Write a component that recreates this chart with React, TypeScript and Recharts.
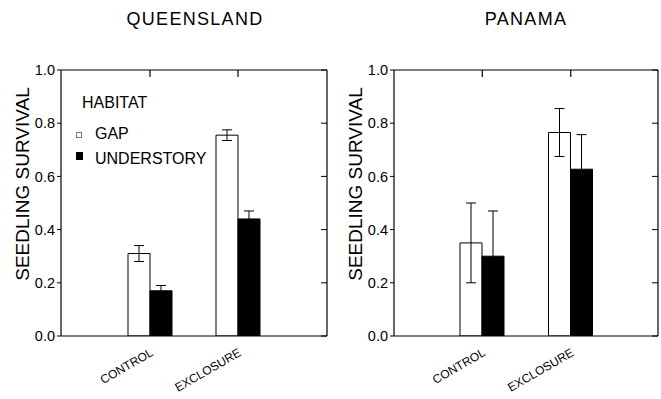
import React from 'react';
import { BarChart, Bar, XAxis, YAxis, ErrorBar } from 'recharts';

const categories = ['CONTROL', 'EXCLOSURE'];
const seriesNames = ['GAP', 'UNDERSTORY'];
const panelTitles = ['QUEENSLAND', 'PANAMA'];
const yLabel = 'SEEDLING SURVIVAL';
const legendTitle = 'HABITAT';
const yTicks = [0, 0.2, 0.4, 0.6, 0.8, 1.0];

const qGap = [0.31, 0.755];
const qGapErr = [0.03, 0.02];
const qUnder = [0.17, 0.44];
const qUnderErr = [0.02, 0.03];

const pGap = [0.35, 0.765];
const pGapErr = [0.15, 0.09];
const pUnder = [0.3, 0.627];
const pUnderErr = [0.17, 0.13];

const FONT = '"Liberation Sans", Arial, Helvetica, sans-serif';

const build = (gap: number[], gapErr: number[], under: number[], underErr: number[]) =>
  categories.map((c, i) => ({
    cat: c,
    gap: gap[i],
    gapErr: gapErr[i],
    under: under[i],
    underErr: underErr[i],
  }));

const qData = build(qGap, qGapErr, qUnder, qUnderErr);
const pData = build(pGap, pGapErr, pUnder, pUnderErr);

const XTick = (props: any) => {
  const { x, payload } = props;
  return (
    <g transform={`translate(${x + 4},${355}) rotate(-30)`}>
      <text x={0} y={0} textAnchor="end" fontSize={12} fontFamily={FONT} fill="#000">
        {payload.value}
      </text>
    </g>
  );
};

const NoTick = () => <g />;

const Panel = ({ data, width, pad }: { data: any[]; width: number; pad: [number, number] }) => (
  <BarChart
    width={width}
    height={399}
    data={data}
    barGap={0}
    margin={{ top: 70, right: 3, bottom: 13, left: 0 }}
  >
    <XAxis
      dataKey="cat"
      type="category"
      height={50}
      padding={{ left: pad[0], right: pad[1] }}
      tickLine={false}
      axisLine={{ stroke: '#000', strokeWidth: 1.2 }}
      tick={<XTick />}
      interval={0}
    />
    <XAxis
      xAxisId="t"
      dataKey="cat"
      type="category"
      orientation="top"
      mirror
      height={30}
      padding={{ left: pad[0], right: pad[1] }}
      tick={<NoTick />}
      tickSize={7}
      tickLine={{ stroke: '#000', strokeWidth: 1.2 }}
      axisLine={{ stroke: '#000', strokeWidth: 1.2 }}
      interval={0}
    />
    <YAxis
      type="number"
      domain={[0, 1]}
      ticks={yTicks}
      allowDataOverflow
      interval={0}
      width={61}
      tickSize={4}
      tickMargin={2}
      tickFormatter={(v: number) => v.toFixed(1)}
      tick={{ fill: '#000', fontSize: 14.5, fontFamily: FONT }}
      axisLine={{ stroke: '#000', strokeWidth: 1.2 }}
      tickLine={{ stroke: '#000' }}
      label={{
        content: () => (
          <text
            x={22}
            y={184}
            transform="rotate(-90 22 184)"
            textAnchor="middle"
            dominantBaseline="central"
            fontSize={19}
            fontFamily={FONT}
            fill="#000"
          >
            {yLabel}
          </text>
        ),
      }}
    />
    <YAxis
      yAxisId="r"
      type="number"
      orientation="right"
      mirror
      width={60}
      domain={[0, 1]}
      ticks={yTicks}
      allowDataOverflow
      interval={0}
      tick={<NoTick />}
      tickSize={6}
      axisLine={{ stroke: '#000', strokeWidth: 1.2 }}
      tickLine={{ stroke: '#000' }}
    />
    <Bar dataKey="gap" name={seriesNames[0]} fill="#fff" stroke="#000" strokeWidth={1} barSize={22} isAnimationActive={false}>
      <ErrorBar dataKey="gapErr" width={5} stroke="#000" strokeWidth={1} direction="y" />
    </Bar>
    <Bar dataKey="under" name={seriesNames[1]} fill="#000" stroke="#000" strokeWidth={1} barSize={22} isAnimationActive={false}>
      <ErrorBar dataKey="underErr" width={5} stroke="#000" strokeWidth={1} direction="y" />
    </Bar>
    <Bar
      xAxisId="t"
      yAxisId="r"
      dataKey="gap"
      fill="none"
      stroke="none"
      fillOpacity={0}
      barSize={1}
      isAnimationActive={false}
    />
  </BarChart>
);

export default function App() {
  return (
    <div style={{ position: 'absolute', left: 0, top: 0, width: 661, height: 399, background: '#fff' }}>
      <div style={{ position: 'absolute', left: 0, top: 0 }}>
        <Panel data={qData} width={330} pad={[45, 45]} />
      </div>
      <div style={{ position: 'absolute', left: 333, top: 0 }}>
        <Panel data={pData} width={328} pad={[44, 43]} />
      </div>
      <svg
        width={661}
        height={399}
        style={{ position: 'absolute', left: 0, top: 0, pointerEvents: 'none' }}
      >
        <text x={195} y={25} textAnchor="middle" fontSize={18} letterSpacing={1.3} fontFamily={FONT} fill="#000">
          {panelTitles[0]}
        </text>
        <text x={526} y={25} textAnchor="middle" fontSize={18} letterSpacing={1.3} fontFamily={FONT} fill="#000">
          {panelTitles[1]}
        </text>
        <text x={82} y={108} fontSize={16} fontFamily={FONT} fill="#000">
          {legendTitle}
        </text>
        <rect x={76.5} y={132.5} width={5} height={5} fill="#fff" stroke="#777" strokeWidth={1} />
        <text x={95} y={138.5} fontSize={16} fontFamily={FONT} fill="#000">
          {seriesNames[0]}
        </text>
        <rect x={76} y={152} width={7} height={8} fill="#000" />
        <text x={95} y={163.5} fontSize={16} fontFamily={FONT} fill="#000">
          {seriesNames[1]}
        </text>
      </svg>
    </div>
  );
}
